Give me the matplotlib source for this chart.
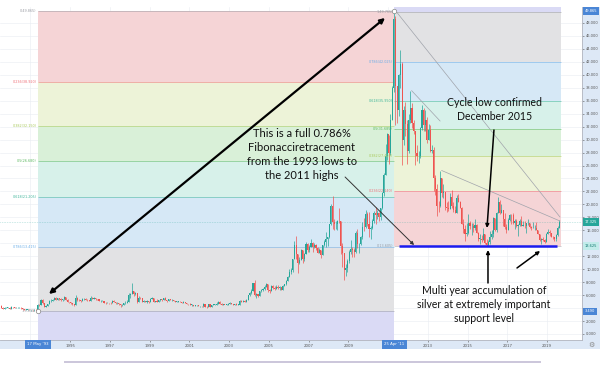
import numpy as np
import pandas as pd
import matplotlib
matplotlib.use('Agg')
import matplotlib.pyplot as plt
from matplotlib.patches import Rectangle
from matplotlib.lines import Line2D

plt.rcParams['font.family'] = ['Lato', 'DejaVu Sans']

# ── Monthly silver candles (USD/oz), Jul 1991 - Aug 2019 ──
first_open = 4.30
close = [
    4.05, 3.90, 4.00, 4.05, 4.05, 3.90,                                  # 1991 H2
    4.15, 4.10, 4.00, 4.00, 4.00, 4.05, 3.95, 3.85, 3.75, 3.75, 3.75, 3.70,  # 1992
    3.70, 3.65, 3.75, 3.60, 4.45, 4.40, 5.25, 4.75, 4.20, 4.30, 4.60, 5.10,  # 1993
    5.15, 5.30, 5.60, 5.30, 5.50, 5.40, 5.20, 5.35, 5.70, 5.25, 5.00, 4.90,  # 1994
    4.80, 4.60, 4.45, 5.60, 5.25, 5.20, 5.10, 5.40, 5.40, 5.30, 5.25, 5.15,  # 1995
    5.55, 5.45, 5.50, 5.40, 5.35, 5.10, 5.10, 5.10, 4.85, 4.80, 4.85, 4.80,  # 1996
    4.75, 5.15, 5.00, 4.75, 4.75, 4.65, 4.40, 4.55, 4.75, 4.80, 5.00, 5.95,  # 1997
    6.15, 6.60, 6.20, 6.40, 5.00, 5.60, 5.50, 5.00, 5.10, 5.00, 5.05, 5.00,  # 1998
    5.45, 5.55, 5.00, 5.05, 5.00, 5.20, 5.40, 5.20, 5.50, 5.25, 5.10, 5.40,  # 1999
    5.25, 5.25, 5.05, 5.00, 5.00, 5.00, 4.95, 4.85, 4.90, 4.80, 4.70, 4.60,  # 2000
    4.50, 4.50, 4.35, 4.40, 4.45, 4.25, 4.30, 4.25, 4.70, 4.20, 4.10, 4.60,  # 2001
    4.20, 4.50, 4.50, 4.50, 4.60, 4.90, 4.70, 4.55, 4.55, 4.50, 4.55, 4.70,  # 2002
    4.80, 4.65, 4.45, 4.60, 4.50, 4.55, 5.10, 5.00, 5.15, 5.00, 5.30, 5.95,  # 2003
    6.25, 6.70, 7.85, 6.05, 6.10, 5.85, 6.60, 6.80, 7.00, 7.30, 7.65, 6.80,  # 2004
    6.65, 7.40, 7.10, 6.95, 7.20, 7.05, 7.20, 6.85, 7.45, 7.65, 8.25, 8.85,  # 2005
    9.60, 9.80, 11.60, 13.75, 12.40, 11.00, 11.35, 12.90, 11.60, 12.40, 13.90, 12.90,  # 2006
    13.50, 14.00, 13.35, 13.70, 13.25, 12.55, 12.90, 12.15, 13.75, 14.20, 14.60, 14.90,  # 2007
    16.90, 19.80, 17.25, 16.90, 16.90, 17.50, 17.40, 13.60, 12.50, 9.80, 10.20, 11.30,  # 2008
    12.60, 13.10, 13.00, 12.60, 15.60, 13.90, 13.90, 14.90, 16.50, 16.45, 18.50, 16.90,  # 2009
    16.20, 16.30, 17.50, 18.70, 18.35, 18.70, 18.00, 19.40, 21.80, 24.50, 27.50, 30.90,  # 2010
    27.90, 33.10, 37.90, 48.60, 38.30, 34.60, 39.90, 41.60, 30.00, 34.50, 32.40, 28.20,  # 2011
    33.00, 34.80, 32.50, 31.30, 28.00, 27.40, 27.50, 31.80, 34.60, 32.30, 33.00, 30.00,  # 2012
    31.50, 28.30, 28.40, 24.10, 22.40, 19.80, 19.70, 24.00, 21.70, 21.90, 19.60, 19.50,  # 2013
    19.30, 21.20, 19.70, 19.10, 18.70, 21.00, 20.40, 19.50, 17.00, 16.20, 15.50, 15.60,  # 2014
    17.20, 16.60, 16.60, 16.30, 16.80, 15.60, 14.70, 14.70, 14.50, 15.50, 14.10, 13.80,  # 2015
    14.20, 15.00, 15.50, 17.90, 16.00, 18.70, 20.30, 18.70, 19.20, 17.70, 16.50, 16.00,  # 2016
    17.60, 18.40, 18.30, 17.20, 17.50, 16.60, 16.80, 17.50, 16.70, 16.70, 16.60, 17.10,  # 2017
    17.20, 16.50, 16.30, 16.30, 16.40, 16.10, 15.50, 14.50, 14.60, 14.50, 14.20, 15.50,  # 2018
    15.70, 15.60, 15.00, 14.90, 14.60, 15.30, 16.40, 17.325,                             # 2019
]
high = [
    4.40, 4.10, 4.15, 4.15, 4.15, 4.10,
    4.25, 4.20, 4.15, 4.10, 4.10, 4.10, 4.10, 3.95, 3.85, 3.85, 3.80, 3.80,
    3.75, 3.70, 3.80, 3.80, 4.60, 4.60, 5.40, 5.35, 4.80, 4.40, 4.60, 5.20,
    5.45, 5.45, 5.75, 5.65, 5.60, 5.60, 5.50, 5.45, 5.80, 5.70, 5.35, 5.00,
    4.95, 4.80, 4.70, 6.00, 5.70, 5.35, 5.30, 5.50, 5.50, 5.50, 5.35, 5.30,
    5.80, 5.70, 5.65, 5.60, 5.45, 5.35, 5.20, 5.20, 5.15, 4.90, 4.95, 4.85,
    4.90, 5.25, 5.25, 5.00, 4.90, 4.75, 4.70, 4.65, 4.80, 5.10, 5.25, 6.25,
    6.40, 7.80, 6.65, 6.50, 6.20, 5.80, 5.75, 5.40, 5.30, 5.10, 5.20, 5.05,
    5.55, 5.70, 5.55, 5.10, 5.40, 5.30, 5.45, 5.40, 5.60, 5.75, 5.25, 5.45,
    5.45, 5.35, 5.30, 5.10, 5.05, 5.05, 5.05, 5.00, 5.05, 4.95, 4.80, 4.70,
    4.75, 4.60, 4.55, 4.45, 4.55, 4.45, 4.35, 4.35, 4.75, 4.70, 4.25, 4.65,
    4.60, 4.55, 4.70, 4.65, 5.00, 5.10, 5.10, 4.75, 4.70, 4.55, 4.65, 4.85,
    4.95, 4.80, 4.70, 4.70, 4.85, 4.70, 5.20, 5.30, 5.30, 5.20, 5.45, 6.00,
    6.45, 6.90, 7.85, 8.30, 6.25, 6.20, 6.65, 6.90, 7.10, 7.50, 7.80, 7.65,
    6.95, 7.60, 7.60, 7.35, 7.55, 7.50, 7.35, 7.30, 7.50, 7.75, 8.35, 9.00,
    10.00, 10.25, 11.65, 14.30, 15.20, 12.40, 11.90, 13.10, 12.90, 12.50, 14.15, 14.00,
    13.70, 14.70, 14.20, 14.00, 13.95, 13.50, 13.20, 13.00, 13.75, 14.50, 15.70, 14.95,
    16.90, 20.00, 21.35, 17.80, 17.40, 17.60, 19.40, 17.45, 14.00, 12.50, 10.80, 11.60,
    12.90, 14.50, 13.40, 13.30, 15.90, 16.20, 14.10, 15.10, 17.30, 17.85, 19.20, 18.90,
    18.80, 16.60, 17.80, 19.00, 19.60, 19.20, 18.80, 19.40, 21.85, 24.90, 29.30, 31.00,
    30.70, 33.90, 38.20, 49.80, 49.00, 38.00, 40.20, 43.80, 42.00, 35.20, 35.80, 33.00,
    34.00, 37.50, 35.60, 33.10, 31.40, 29.20, 28.30, 31.90, 35.40, 34.90, 34.60, 33.50,
    32.40, 32.20, 29.10, 28.80, 24.50, 23.20, 20.60, 25.10, 24.10, 23.20, 21.80, 20.40,
    20.50, 21.80, 22.20, 20.30, 19.80, 21.50, 21.60, 20.60, 19.60, 17.80, 16.80, 17.20,
    18.50, 17.40, 17.20, 17.10, 17.80, 16.90, 15.80, 15.50, 15.30, 16.40, 15.50, 14.70,
    14.50, 15.90, 16.00, 18.00, 17.90, 18.80, 21.10, 20.70, 20.00, 19.20, 18.70, 17.00,
    17.85, 18.50, 18.50, 18.65, 17.70, 17.80, 16.90, 17.80, 18.20, 17.50, 17.40, 17.20,
    17.70, 17.20, 16.70, 17.30, 16.80, 17.30, 16.00, 15.50, 14.75, 14.90, 14.60, 15.60,
    16.20, 16.10, 15.60, 15.10, 15.00, 15.50, 16.60, 17.60,
]
low = [
    3.95, 3.85, 3.85, 3.95, 3.95, 3.80,
    3.90, 4.05, 3.95, 3.95, 3.95, 3.95, 3.90, 3.75, 3.65, 3.70, 3.70, 3.65,
    3.60, 3.55, 3.60, 3.55, 3.49, 4.30, 4.40, 4.70, 4.10, 4.15, 4.25, 4.60,
    4.95, 5.10, 5.25, 5.20, 5.20, 5.30, 5.15, 5.10, 5.30, 5.20, 4.90, 4.75,
    4.70, 4.55, 4.35, 4.45, 5.15, 5.10, 5.00, 5.10, 5.30, 5.25, 5.15, 5.10,
    5.15, 5.40, 5.40, 5.30, 5.30, 5.05, 5.00, 5.05, 4.85, 4.70, 4.75, 4.70,
    4.70, 4.75, 4.95, 4.70, 4.70, 4.55, 4.20, 4.35, 4.50, 4.70, 4.75, 4.90,
    5.50, 6.10, 5.90, 6.05, 4.80, 5.00, 5.40, 5.00, 4.95, 4.95, 4.85, 4.85,
    5.00, 5.45, 4.90, 4.95, 4.95, 4.95, 5.15, 5.15, 5.20, 5.20, 5.00, 5.10,
    5.20, 5.10, 5.05, 4.95, 4.95, 4.95, 4.90, 4.85, 4.85, 4.75, 4.65, 4.55,
    4.50, 4.35, 4.30, 4.30, 4.35, 4.25, 4.20, 4.15, 4.20, 4.20, 4.05, 4.10,
    4.20, 4.20, 4.45, 4.45, 4.50, 4.60, 4.70, 4.50, 4.50, 4.40, 4.45, 4.50,
    4.70, 4.60, 4.40, 4.40, 4.50, 4.50, 4.55, 4.90, 4.90, 4.90, 4.95, 5.25,
    5.90, 6.15, 6.60, 5.85, 5.50, 5.65, 5.85, 6.50, 6.60, 6.85, 7.20, 6.55,
    6.35, 6.60, 7.00, 6.85, 7.00, 6.95, 6.85, 6.80, 6.85, 7.40, 7.60, 8.20,
    8.75, 9.20, 9.60, 11.60, 11.60, 9.40, 10.80, 11.40, 10.90, 11.20, 12.40, 12.60,
    12.70, 13.40, 12.70, 13.25, 12.90, 12.50, 12.50, 11.80, 12.15, 13.60, 13.50, 13.60,
    14.80, 16.80, 16.20, 16.10, 16.20, 16.10, 17.10, 12.40, 10.40, 8.40, 9.00, 9.60,
    10.90, 12.40, 11.90, 11.90, 12.50, 13.30, 12.50, 13.80, 14.70, 15.90, 16.30, 16.60,
    14.90, 14.65, 16.20, 17.20, 17.00, 17.70, 17.50, 17.60, 19.30, 21.30, 24.60, 26.80,
    26.20, 27.70, 33.10, 37.30, 32.30, 32.60, 33.60, 38.00, 26.10, 29.10, 30.60, 26.20,
    27.90, 32.50, 31.80, 30.80, 26.10, 26.70, 26.40, 27.20, 31.50, 31.30, 31.40, 29.40,
    29.90, 28.10, 28.00, 22.00, 21.50, 18.20, 18.80, 19.60, 21.10, 21.00, 19.10, 18.80,
    19.00, 19.30, 19.40, 18.80, 18.70, 18.60, 20.30, 19.40, 16.90, 15.60, 14.40, 15.20,
    15.50, 16.20, 15.30, 15.80, 16.00, 15.60, 14.40, 13.95, 14.20, 14.50, 13.90, 13.60,
    13.60, 13.90, 14.70, 15.00, 15.90, 15.70, 18.60, 18.50, 18.60, 16.70, 16.20, 15.60,
    16.00, 17.40, 17.00, 17.00, 16.20, 16.50, 15.20, 16.70, 16.60, 16.60, 16.40, 15.60,
    16.80, 16.30, 16.10, 16.30, 16.10, 16.10, 15.40, 14.40, 13.95, 14.30, 14.00, 14.20,
    15.40, 15.20, 14.90, 14.70, 14.30, 14.40, 15.10, 16.30,
]

# Fibonacci retracements drawn on the chart
fib_levels = [0, 0.236, 0.382, 0.5, 0.618, 0.786, 1, 1.618]
fib_line_colors = ['#9a9ca3', '#ef6f78', '#a9c95a', '#5cb860', '#3fb59a',
                   '#6aaee8', '#9a9ca3']
fib_band_colors = ['#f5d4d6', '#edf3d8', '#d9f0d8', '#d7f1ea', '#d6e8f6',
                   '#e2e2e4', '#dadaf5']
fib1_low, fib1_high = 3.49, 49.865      # 1993 low -> 2011 high
fib1_dates = ('1993-05-17', '2011-04-25')
fib2_low, fib2_high = 13.605, 49.765    # 2011 high -> 2015 low
fib2_dates = ('2011-04-25', '2019-09-12')

last_price = 17.325
support_line = 13.625
axis_tags = [(49.865, '#4a86d6', 'white'), (last_price, '#26a69a', 'white'),
             (support_line, '#c2ecea', '#137a72'), (3.490, '#4a86d6', 'white')]
year_ticks = list(range(1993, 2020, 2))
hidden_years = [1993, 2011]           # covered by the date tags
price_ticks = list(range(0, 50, 2))
hidden_prices = [4, 14]               # covered by the price tags


def dec_year(s):
    ts = pd.Timestamp(s)
    return ts.year + (ts.dayofyear - 1) / 365.25


def tv_round(p):
    return np.floor(p / 0.005 + 0.5 + 1e-6) * 0.005


months = pd.date_range('1991-07-01', periods=len(close), freq='MS')
t = (months.year + (months.month - 0.5) / 12).to_numpy()
c = np.array(close)
o = np.concatenate([[first_open], c[:-1]])
h = np.array(high)
lo = np.array(low)

# ── Figure ────────────────────────────────────────────────────────────────────
fig = plt.figure(figsize=(6, 3.75), dpi=100)
ax = fig.add_axes([0, 35 / 375, 582 / 600, 333.5 / 375])
ax.set_xlim(1991.478, 2020.76)
ax.set_ylim(-0.926, 50.54)

# axis strips (TradingView style)
fig.add_artist(Rectangle((0, 26 / 375), 582 / 600, 9 / 375, transform=fig.transFigure,
                         fc='#dde8f6', ec='none', zorder=-1))
fig.add_artist(Rectangle((582 / 600, 26 / 375), 18 / 600, 342.5 / 375,
                         transform=fig.transFigure, fc='#dde8f6', ec='none', zorder=-1))

ax.grid(color='#e9ecf2', lw=0.4)
ax.set_axisbelow(True)
for s in ['top', 'left']:
    ax.spines[s].set_visible(False)
for s in ['right', 'bottom']:
    ax.spines[s].set_color('#b2b5be')
    ax.spines[s].set_linewidth(0.6)

ax.yaxis.tick_right()
ax.set_yticks(price_ticks)
ax.set_yticklabels(['' if v in hidden_prices else f'{v:.3f}' for v in price_ticks],
                   family='DejaVu Sans')
ax.set_xticks(year_ticks)
ax.set_xticklabels(['' if y in hidden_years else str(y) for y in year_ticks],
                   family='DejaVu Sans')
ax.tick_params(axis='y', length=1.5, width=0.4, colors='#555', labelsize=2.6, pad=1.5)
ax.tick_params(axis='x', length=1.5, width=0.4, colors='#555', labelsize=2.8, pad=1.5)


def draw_fib(lo_p, hi_p, dates, from_high):
    x0, x1 = dec_year(dates[0]), dec_year(dates[1])
    rng = hi_p - lo_p
    prices = [hi_p - l * rng if from_high else lo_p + l * rng for l in fib_levels]
    for i in range(len(fib_levels) - 1):
        ax.fill_between([x0, x1], prices[i], prices[i + 1], color=fib_band_colors[i],
                        lw=0, zorder=1)
    for l, p, col in zip(fib_levels[:-1], prices[:-1], fib_line_colors):
        ax.hlines(p, x0, x1, color=col, lw=0.6, alpha=0.6, zorder=1.5)
        ax.annotate(f'{l:g}({tv_round(p):.3f})', xy=(x0, p), xytext=(-1, 0),
                    textcoords='offset points', ha='right', va='center',
                    fontsize=2.4, color=col, family='DejaVu Sans', zorder=6)


draw_fib(fib1_low, fib1_high, fib1_dates, True)
draw_fib(fib2_low, fib2_high, fib2_dates, False)

# ── Candles ───────────────────────────────────────────────────────────────────
cols = np.where(c >= o, '#26a69a', '#ef5350')
ax.vlines(t, lo, h, colors=cols, lw=0.5, zorder=3)
ax.bar(t, np.maximum(np.abs(c - o), 0.06), bottom=np.minimum(o, c), width=0.055,
       color=cols, lw=0, zorder=3)

# current price line
ax.axhline(last_price, color='#26a69a', lw=0.4, ls=(0, (1, 2)), alpha=0.7, zorder=2)

# anchors
ax.plot([dec_year(fib1_dates[0]), dec_year(fib1_dates[1])], [fib1_low, fib1_high], 'o',
        ms=3.2, mfc='white', mec='#888', mew=0.5, zorder=7, ls='none')

# trend lines
ax.plot([2011.35, 2019.65], [50.0, 18.06], color='#a0a3ab', lw=0.5, zorder=4)
ax.plot([2012.19, 2013.62], [37.55, 32.87], color='#a0a3ab', lw=0.5, zorder=4)
ax.plot([2013.70, 2019.65], [25.23, 17.44], color='#a0a3ab', lw=0.5, zorder=4)

# support line
ax.hlines(fib2_low, 2011.55, 2019.50, color='#1b1bef', lw=1.8, zorder=5)

# ── Arrows & notes ────────────────────────────────────────────────────────────
ax.annotate('', xy=(2010.85, 48.77), xytext=(1993.94, 6.17),
            arrowprops=dict(arrowstyle='<|-|>', color='black', lw=1.6,
                            mutation_scale=7, shrinkA=0, shrinkB=0), zorder=8)
arrows = [((2008.84, 24.23), (2012.31, 13.73), 0.7, '#333'),
          ((2016.33, 31.48), (2015.98, 16.36), 1.1, 'black'),
          ((2016.03, 7.87), (2016.03, 12.96), 1.1, 'black'),
          ((2017.49, 10.19), (2018.65, 12.81), 1.1, 'black')]
for start, end, lw, col in arrows:
    ax.annotate('', xy=end, xytext=start,
                arrowprops=dict(arrowstyle='-|>', color=col, lw=lw,
                                mutation_scale=5, shrinkA=0, shrinkB=0), zorder=8)

note_kw = dict(ha='center', va='center', color='#111', linespacing=1.35, zorder=9)
ax.text(2006.67, 27.7, 'This is a full 0.786%\nFibonacciretracement\n'
        'from the 1993 lows to\nthe 2011 highs', fontsize=8.0, **note_kw)
ax.text(2016.38, 34.6, 'Cycle low confirmed\nDecember 2015', fontsize=7.6, **note_kw)
ax.text(2015.83, 4.6, 'Multi year accumulation of\nsilver at extremely important\n'
        'support level', fontsize=7.6, **note_kw)

# ── Axis tags ─────────────────────────────────────────────────────────────────
for v, fc, tc in axis_tags:
    ax.annotate(f'{v:.3f}', xy=(1, v), xycoords=('axes fraction', 'data'),
                xytext=(2, 0), textcoords='offset points', ha='left', va='center',
                fontsize=2.6, color=tc, family='DejaVu Sans', annotation_clip=False,
                bbox=dict(boxstyle='square,pad=0.5', fc=fc, ec='none'), zorder=20)
for d, txt in [(fib1_dates[0], "17 May '93"), (fib1_dates[1], "25 Apr '11")]:
    ax.annotate(txt, xy=(dec_year(d), 0), xycoords=('data', 'axes fraction'),
                xytext=(0, -3.2), textcoords='offset points', ha='center', va='center',
                fontsize=2.8, color='white', family='DejaVu Sans', annotation_clip=False,
                bbox=dict(boxstyle='square,pad=0.6', fc='#4a86d6', ec='none'), zorder=20)

# scrollbar and settings icon
fig.add_artist(Line2D([65 / 600, 540 / 600], [13 / 375, 13 / 375], color='#cbc6da', lw=1.4))
fig.text(591 / 600, 30 / 375, '⚙', ha='center', va='center', fontsize=5,
         color='#888', family='DejaVu Sans')

fig.savefig('out.png', dpi=100)
